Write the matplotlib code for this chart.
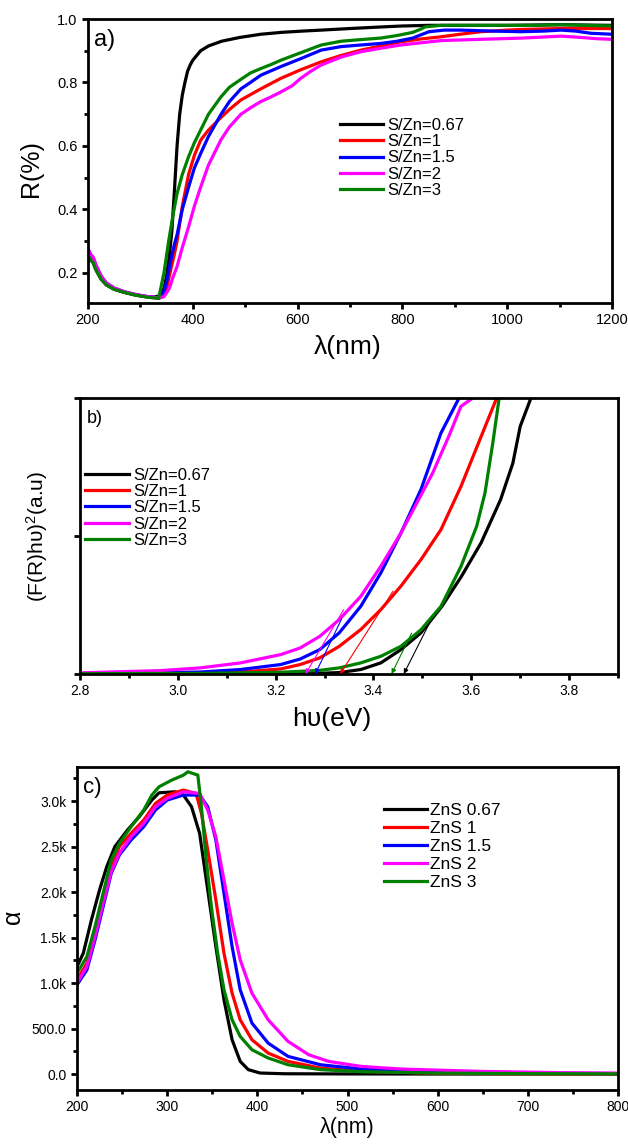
import matplotlib
matplotlib.use("Agg")
import matplotlib.pyplot as plt
from matplotlib.ticker import MultipleLocator, FixedLocator, FixedFormatter

plt.rcParams['font.family'] = ['Liberation Sans', 'DejaVu Sans']
plt.rcParams['mathtext.fontset'] = 'custom'
plt.rcParams['mathtext.rm'] = 'Liberation Sans'
plt.rcParams['mathtext.it'] = 'Liberation Sans'

colors = ['black', 'red', 'blue', 'magenta', 'green']
labels_ab = ['S/Zn=0.67', 'S/Zn=1', 'S/Zn=1.5', 'S/Zn=2', 'S/Zn=3']
labels_c = ['ZnS 0.67', 'ZnS 1', 'ZnS 1.5', 'ZnS 2', 'ZnS 3']

# ---- a) reflectance vs wavelength
lam_a_067 = [200, 205, 210, 215, 225, 235, 250, 270, 290, 310, 325, 335, 345, 350, 355, 360, 365, 370, 375,
             380, 385, 390, 395, 400, 415, 430, 455, 490, 530, 570, 610, 645, 700, 760, 800, 850, 900, 1000,
             1100, 1200]
R_a_067 = [0.255, 0.24, 0.232, 0.21, 0.18, 0.162, 0.148, 0.138, 0.13, 0.125, 0.123, 0.127, 0.15, 0.19, 0.25,
           0.33, 0.46, 0.60, 0.70, 0.76, 0.80, 0.835, 0.855, 0.87, 0.90, 0.915, 0.93, 0.942, 0.952, 0.958,
           0.962, 0.965, 0.97, 0.975, 0.978, 0.98, 0.98, 0.98, 0.982, 0.98]
lam_a_1 = [200, 205, 210, 215, 225, 235, 250, 270, 290, 310, 325, 335, 342, 350, 358, 365, 370, 380, 392, 403,
           415, 430, 454, 470, 492, 530, 568, 606, 645, 683, 721, 759, 797, 835, 874, 910, 950, 1000, 1027,
           1100, 1200]
R_a_1 = [0.26, 0.245, 0.236, 0.213, 0.182, 0.163, 0.149, 0.139, 0.131, 0.125, 0.122, 0.12, 0.125, 0.15, 0.21,
         0.26, 0.30, 0.41, 0.51, 0.57, 0.618, 0.65, 0.69, 0.715, 0.745, 0.78, 0.813, 0.84, 0.865, 0.885,
         0.902, 0.915, 0.928, 0.937, 0.944, 0.952, 0.96, 0.965, 0.967, 0.97, 0.97]
lam_a_15 = [200, 205, 210, 215, 225, 235, 250, 270, 290, 310, 325, 335, 342, 350, 358, 365, 370, 380, 392, 403,
            415, 430, 454, 470, 492, 510, 530, 568, 606, 645, 683, 720, 759, 790, 820, 835, 851, 880, 912,
            970, 1027, 1070, 1103, 1130, 1160, 1200]
R_a_15 = [0.275, 0.258, 0.248, 0.225, 0.19, 0.168, 0.152, 0.14, 0.132, 0.126, 0.123, 0.12, 0.125, 0.17, 0.24,
          0.29, 0.32, 0.40, 0.47, 0.53, 0.576, 0.63, 0.70, 0.74, 0.78, 0.80, 0.823, 0.85, 0.875, 0.902,
          0.913, 0.918, 0.923, 0.93, 0.94, 0.95, 0.96, 0.965, 0.965, 0.962, 0.96, 0.962, 0.965, 0.962,
          0.955, 0.952]
lam_a_2 = [200, 205, 210, 215, 225, 235, 250, 270, 290, 310, 325, 335, 345, 355, 362, 370, 380, 392, 403, 415,
           430, 454, 470, 492, 510, 530, 550, 568, 590, 606, 625, 645, 683, 721, 759, 797, 835, 874, 950,
           1030, 1103, 1140, 1170, 1200]
R_a_2 = [0.275, 0.258, 0.248, 0.225, 0.19, 0.168, 0.152, 0.14, 0.132, 0.126, 0.123, 0.121, 0.125, 0.15, 0.185,
         0.22, 0.28, 0.345, 0.41, 0.47, 0.54, 0.62, 0.66, 0.70, 0.72, 0.74, 0.755, 0.77, 0.79, 0.813, 0.835,
         0.855, 0.88, 0.897, 0.908, 0.918, 0.925, 0.932, 0.936, 0.94, 0.946, 0.942, 0.938, 0.936]
lam_a_3 = [200, 205, 210, 215, 225, 235, 250, 270, 290, 310, 325, 335, 345, 354, 362, 370, 380, 392, 403, 415,
           430, 454, 470, 492, 510, 530, 550, 568, 600, 645, 683, 720, 759, 790, 820, 835, 843, 860, 874, 950,
           1050, 1100, 1150, 1200]
R_a_3 = [0.255, 0.24, 0.232, 0.21, 0.18, 0.162, 0.148, 0.138, 0.13, 0.124, 0.121, 0.12, 0.2, 0.30, 0.38, 0.45,
         0.51, 0.566, 0.61, 0.65, 0.70, 0.755, 0.785, 0.81, 0.83, 0.844, 0.857, 0.87, 0.89, 0.918, 0.93,
         0.935, 0.94, 0.948, 0.958, 0.968, 0.975, 0.978, 0.98, 0.98, 0.98, 0.982, 0.98, 0.978]

# ---- b) Tauc plot
E_b_067 = [2.8, 3.0, 3.2, 3.3, 3.33, 3.374, 3.415, 3.456, 3.497, 3.54, 3.58, 3.62, 3.66, 3.685, 3.70, 3.722, 3.73]
F_b_067 = [0, 0, 0.001, 0.003, 0.005, 0.016, 0.04, 0.088, 0.149, 0.245, 0.354, 0.475, 0.632, 0.764, 0.897, 1.0, 1.03]
E_b_1 = [2.8, 2.964, 3.128, 3.21, 3.25, 3.29, 3.33, 3.374, 3.415, 3.456, 3.497, 3.538, 3.579, 3.62, 3.652, 3.657]
F_b_1 = [0, 0.002, 0.007, 0.018, 0.034, 0.058, 0.10, 0.161, 0.233, 0.318, 0.414, 0.523, 0.68, 0.86, 1.0, 1.02]
E_b_15 = [2.8, 2.88, 3.046, 3.128, 3.21, 3.25, 3.29, 3.33, 3.374, 3.415, 3.456, 3.497, 3.538, 3.575, 3.58]
F_b_15 = [0.001, 0.002, 0.007, 0.016, 0.034, 0.054, 0.088, 0.149, 0.245, 0.366, 0.51, 0.668, 0.873, 1.0, 1.02]
E_b_2 = [2.8, 2.964, 3.046, 3.128, 3.21, 3.25, 3.29, 3.33, 3.374, 3.415, 3.456, 3.521, 3.554, 3.579, 3.603, 3.61]
F_b_2 = [0.004, 0.012, 0.022, 0.04, 0.07, 0.094, 0.136, 0.197, 0.281, 0.39, 0.51, 0.728, 0.861, 0.97, 1.0, 1.01]
E_b_3 = [2.8, 3.0, 3.046, 3.21, 3.29, 3.33, 3.374, 3.415, 3.456, 3.497, 3.538, 3.579, 3.611, 3.628, 3.644, 3.657, 3.66]
F_b_3 = [0.001, 0.002, 0.002, 0.006, 0.013, 0.022, 0.04, 0.064, 0.10, 0.16, 0.245, 0.39, 0.535, 0.656, 0.837, 1.0, 1.03]
# tangent extrapolations: (start E, start F, band gap E)
gap_start_E = [3.515, 3.44, 3.335, 3.339, 3.478]
gap_start_F = [0.186, 0.30, 0.20, 0.233, 0.148]
gap_E = [3.462, 3.332, 3.281, 3.261, 3.437]

# ---- c) absorption coefficient
lam_c_067 = [200, 207, 216, 225, 233, 242, 256, 269, 283, 291, 309, 318, 327, 336, 345, 354, 363, 372, 381,
             390, 403, 430, 500, 600, 800]
a_c_067 = [1180, 1328, 1694, 2023, 2279, 2499, 2682, 2828, 3011, 3091, 3102, 3066, 2938, 2645, 2023, 1401,
           816, 377, 139, 48, 11, 3, 1, 0, 0]
lam_c_1 = [200, 211, 220, 229, 238, 247, 260, 274, 287, 300, 318, 332, 338, 345, 354, 363, 372, 381, 394, 412,
           434, 470, 515, 604, 700, 800]
a_c_1 = [1035, 1218, 1548, 1950, 2279, 2499, 2645, 2791, 2974, 3066, 3121, 3084, 2865, 2462, 1913, 1328, 889,
         596, 377, 230, 139, 66, 29, 8, 3, 1]
lam_c_15 = [200, 211, 220, 229, 238, 247, 260, 274, 287, 300, 318, 336, 345, 354, 363, 372, 381, 394, 412, 434,
            470, 515, 604, 700, 800]
a_c_15 = [980, 1145, 1474, 1840, 2206, 2407, 2572, 2718, 2901, 3011, 3066, 3066, 2938, 2572, 1987, 1401, 926,
          560, 340, 194, 102, 55, 22, 10, 5]
lam_c_2 = [200, 211, 220, 229, 238, 247, 260, 274, 287, 300, 318, 336, 345, 354, 363, 372, 381, 394, 412, 434,
           457, 479, 515, 559, 648, 737, 800]
a_c_2 = [999, 1182, 1511, 1877, 2224, 2426, 2608, 2755, 2938, 3029, 3102, 3084, 2901, 2608, 2133, 1657, 1255,
         889, 596, 359, 212, 139, 84, 55, 29, 15, 10]
lam_c_3 = [200, 211, 220, 229, 238, 247, 260, 274, 283, 291, 305, 318, 323, 334, 338, 343, 349, 356, 363, 372,
           381, 394, 412, 434, 470, 515, 600, 700, 800]
a_c_3 = [1108, 1291, 1621, 1987, 2352, 2535, 2718, 2901, 3066, 3157, 3230, 3285, 3322, 3285, 2938, 2389, 1840,
         1328, 926, 596, 413, 267, 176, 102, 48, 26, 10, 4, 2]
alpha_ticks = [0, 500, 1000, 1500, 2000, 2500, 3000]
alpha_ticklabels = ['0.0', '500.0', '1.0k', '1.5k', '2.0k', '2.5k', '3.0k']


def style(ax, ls=10):
    for s in ax.spines.values():
        s.set_linewidth(2)
    ax.tick_params(which='both', direction='out', width=2, labelsize=ls, top=False, right=False)
    ax.tick_params(which='major', length=4)
    ax.tick_params(which='minor', length=3)


fig = plt.figure(figsize=(6.28, 11.45), dpi=100)

# panel a
ax1 = fig.add_axes([0.1401, 0.7354, 0.8344, 0.2480])
for x, y, c, l in zip([lam_a_067, lam_a_1, lam_a_15, lam_a_2, lam_a_3],
                      [R_a_067, R_a_1, R_a_15, R_a_2, R_a_3], colors, labels_ab):
    ax1.plot(x, y, color=c, lw=2.3, label=l)
ax1.set_xlim(200, 1200)
ax1.set_ylim(0.105, 1.0)
ax1.xaxis.set_major_locator(MultipleLocator(200))
ax1.xaxis.set_minor_locator(MultipleLocator(100))
ax1.yaxis.set_major_locator(MultipleLocator(0.2))
ax1.yaxis.set_minor_locator(MultipleLocator(0.1))
ax1.set_xlabel('λ(nm)', fontsize=19)
ax1.xaxis.set_label_coords(0.496, -0.113)
ax1.set_ylabel('R(%)', fontsize=18)
ax1.yaxis.set_label_coords(-0.086, 0.472)
ax1.text(0.012, 0.965, 'a)', transform=ax1.transAxes, fontsize=17, va='top')
ax1.legend(loc='upper left', bbox_to_anchor=(0.481, 0.652), frameon=False, fontsize=12,
           handlelength=2.6, handletextpad=0.25, labelspacing=0.08, borderaxespad=0, borderpad=0)
style(ax1, 10.5)

# panel b
ax2 = fig.add_axes([0.1274, 0.4114, 0.8567, 0.2410])
for x, y, c, l in zip([E_b_067, E_b_1, E_b_15, E_b_2, E_b_3],
                      [F_b_067, F_b_1, F_b_15, F_b_2, F_b_3], colors, labels_ab):
    ax2.plot(x, y, color=c, lw=2.3, label=l)
for xs, ys, xg, c in zip(gap_start_E, gap_start_F, gap_E, colors):
    ax2.annotate('', xy=(xg, 0), xytext=(xs, ys),
                 arrowprops=dict(arrowstyle='-|>', color=c, lw=0.8, mutation_scale=7, shrinkA=0, shrinkB=0))
ax2.set_xlim(2.8, 3.9)
ax2.set_ylim(0, 1)
ax2.xaxis.set_major_locator(MultipleLocator(0.2))
ax2.xaxis.set_minor_locator(MultipleLocator(0.1))
ax2.yaxis.set_major_locator(FixedLocator([0, 0.5, 1.0]))
ax2.set_yticklabels([])
ax2.set_xlabel('hυ(eV)', fontsize=19)
ax2.xaxis.set_label_coords(0.467, -0.12)
ax2.set_ylabel('(F(R)hυ)$^2$(a.u)', fontsize=15)
ax2.yaxis.set_label_coords(-0.056, 0.5)
ax2.text(0.012, 0.955, 'b)', transform=ax2.transAxes, fontsize=13, va='top')
ax2.legend(loc='upper left', bbox_to_anchor=(0.01, 0.748), frameon=False, fontsize=12,
           handlelength=2.6, handletextpad=0.25, labelspacing=0.08, borderaxespad=0, borderpad=0)
style(ax2)

# panel c
ax3 = fig.add_axes([0.1226, 0.0480, 0.8615, 0.2821])
for x, y, c, l in zip([lam_c_067, lam_c_1, lam_c_15, lam_c_2, lam_c_3],
                      [a_c_067, a_c_1, a_c_15, a_c_2, a_c_3], colors, labels_c):
    ax3.plot(x, y, color=c, lw=2.3, label=l)
ax3.set_xlim(200, 800)
ax3.set_ylim(-176, 3374)
ax3.xaxis.set_major_locator(MultipleLocator(100))
ax3.xaxis.set_minor_locator(MultipleLocator(50))
ax3.yaxis.set_major_locator(FixedLocator(alpha_ticks))
ax3.yaxis.set_major_formatter(FixedFormatter(alpha_ticklabels))
ax3.yaxis.set_minor_locator(MultipleLocator(250))
ax3.set_xlabel('λ(nm)', fontsize=15.5)
ax3.xaxis.set_label_coords(0.499, -0.083)
ax3.set_ylabel('α', fontsize=18)
ax3.yaxis.set_label_coords(-0.096, 0.536)
ax3.text(0.012, 0.97, 'c)', transform=ax3.transAxes, fontsize=16, va='top')
ax3.legend(loc='upper left', bbox_to_anchor=(0.567, 0.89), frameon=False, fontsize=12.5,
           handlelength=2.5, handletextpad=0.15, labelspacing=0.17, borderaxespad=0, borderpad=0)
style(ax3, 10)

fig.savefig('out.png', dpi=100)
